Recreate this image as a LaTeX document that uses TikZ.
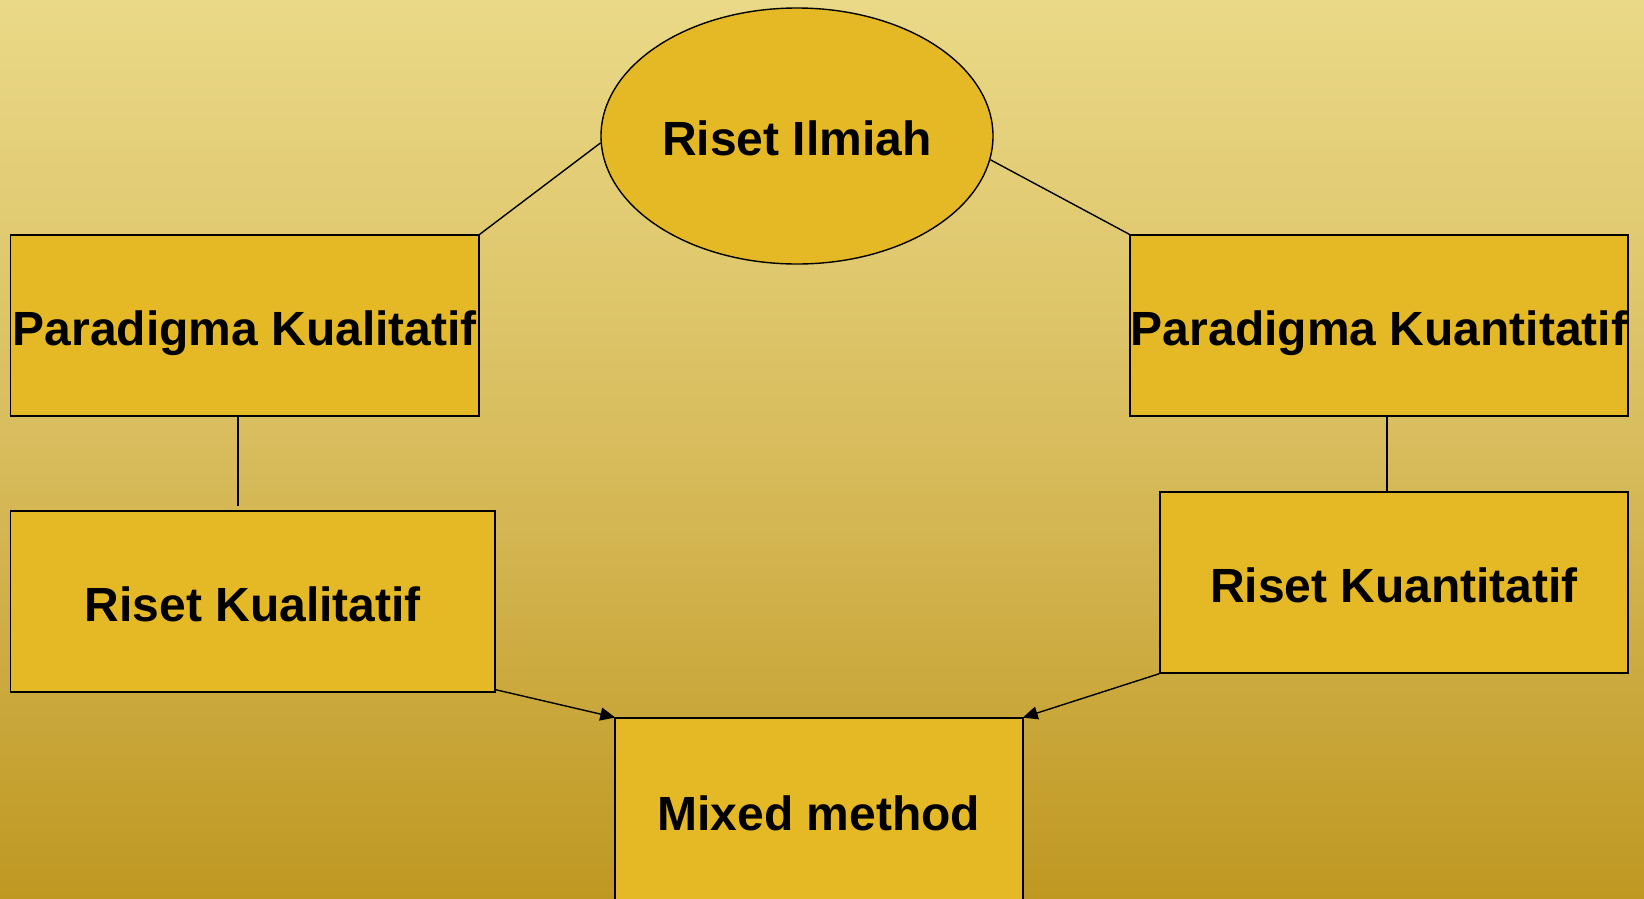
\documentclass[tikz,border=0pt]{standalone}
\usepackage{fontspec}
\setmainfont{Liberation Sans}
\usetikzlibrary{shapes.geometric,arrows.meta}
\definecolor{bgtop}{RGB}{234,217,136}
\definecolor{bgmid}{RGB}{216,188,92}
\definecolor{bgbot}{RGB}{191,152,34}
\definecolor{boxfill}{RGB}{229,185,38}
\tikzset{
  boxnode/.style={draw=black, line width=1.4pt, fill=boxfill, rectangle, inner sep=0pt,
    font=\fontsize{48}{57}\selectfont\bfseries, text height=39pt, text depth=0pt},
  ellnode/.style={draw=black, line width=1.4pt, fill=boxfill, ellipse, inner sep=0pt,
    font=\fontsize{48}{57}\selectfont\bfseries, text height=39pt, text depth=0pt},
  link/.style={draw=black, line width=1.4pt},
  arrowlink/.style={link, -{Triangle[length=15pt,width=13pt]}, shorten >=-1pt}
}
\begin{document}
\begin{tikzpicture}[x=1pt,y=-1pt]
\useasboundingbox (0,0) rectangle (1644,898);
\shade[top color=bgtop, bottom color=bgbot, middle color=bgmid] (0,0) rectangle (1644,898);
\begin{scope}
\clip (0,0) rectangle (1644,898);
\node[ellnode, minimum width=392pt, minimum height=256pt] (ri) at (797,136) {Riset Ilmiah};
\node[boxnode, minimum width=468.5pt, minimum height=181pt] (pkl) at (244.75,325.5) {Paradigma Kualitatif};
\node[boxnode, minimum width=498pt, minimum height=181pt] (pkn) at (1379,325.5) {Paradigma Kuantitatif};
\node[boxnode, minimum width=484.5pt, minimum height=181pt] (rkl) at (252.75,601.5) {Riset Kualitatif};
\node[boxnode, minimum width=468pt, minimum height=181pt] (rkn) at (1394,582.5) {Riset Kuantitatif};
\node[boxnode, minimum width=408pt, minimum height=186pt] (mm) at (819,811) {Mixed method};
\coordinate (lend) at (238,506);
\coordinate (rx) at (1387,450);
\draw[link] (ri.182) -- (pkl.north east);
\draw[link] (ri.-7) -- (pkn.north west);
\draw[link] (pkl.south -| lend) -- (lend);
\draw[link] (pkn.south -| rx) -- (rkn.north -| rx);
\draw[arrowlink] (rkl.south east) ++(0,-3) -- (mm.north west);
\draw[arrowlink] (rkn.south west) -- (mm.north east);
\end{scope}
\end{tikzpicture}
\end{document}
